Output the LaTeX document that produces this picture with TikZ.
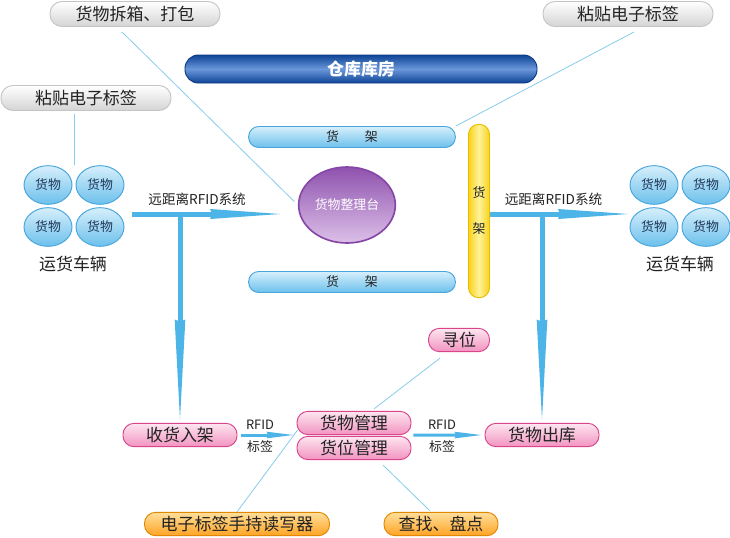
\documentclass[tikz,border=0pt]{standalone}
\usepackage{fontspec}
\setmainfont{Noto Sans CJK SC}
\usepackage{xcolor}
\usepackage{tikz}
\usetikzlibrary{arrows.meta,positioning,calc,shapes.geometric}
\definecolor{ink}{HTML}{222222}
\definecolor{navy}{HTML}{1D3557}
\definecolor{flow}{HTML}{4CB4E7}
\definecolor{link}{HTML}{8ACDEB}
\definecolor{grayrim}{HTML}{C4C4C4}
\definecolor{graylo}{HTML}{D4D4D4}
\definecolor{bankrim}{HTML}{0C3A85}
\definecolor{bankhi}{HTML}{6A96DA}
\definecolor{banklo}{HTML}{0E4596}
\definecolor{shelfrim}{HTML}{48A6DC}
\definecolor{shelfhi}{HTML}{D6EFFB}
\definecolor{shelflo}{HTML}{6CC0EC}
\definecolor{yelrim}{HTML}{E8BE00}
\definecolor{yelhi}{HTML}{FFF39A}
\definecolor{yello}{HTML}{F9D21A}
\definecolor{deskrim}{HTML}{8646A6}
\definecolor{deskhi}{HTML}{8F52AE}
\definecolor{desklo}{HTML}{DCC0E8}
\definecolor{pinkrim}{HTML}{D8458A}
\definecolor{pinkhi}{HTML}{FDE6F0}
\definecolor{pinklo}{HTML}{F293C0}
\definecolor{orgrim}{HTML}{E08800}
\definecolor{orghi}{HTML}{FFDF9A}
\definecolor{orglo}{HTML}{FFA425}
\newcommand{\fbig}{\fontsize{14.5pt}{17pt}\selectfont}
\newcommand{\fmid}{\fontsize{11pt}{13pt}\selectfont}
\newcommand{\fsys}{\fontsize{11.6pt}{13pt}\selectfont}
\tikzset{
  pill/.style   ={rounded corners=3.3mm, inner sep=0pt, minimum height=7mm,
                  align=center, font=\fbig, text=ink, line width=0.8pt},
  gtag/.style   ={pill, draw=grayrim, top color=white, bottom color=graylo,
                  minimum width=51mm, minimum height=7.5mm, rounded corners=3.6mm},
  bank/.style   ={pill, draw=bankrim, top color=banklo, bottom color=banklo,
                  middle color=bankhi, minimum width=105.6mm, minimum height=8.4mm,
                  rounded corners=4mm, text=white, font=\fbig\bfseries},
  shelf/.style  ={pill, draw=shelfrim, top color=shelfhi, bottom color=shelflo,
                  minimum width=62mm, minimum height=6.3mm, rounded corners=3mm, font=\fmid},
  vshelf/.style ={pill, draw=yelrim, left color=yello, right color=yello, middle color=yelhi,
                  minimum width=6.3mm, minimum height=52mm, rounded corners=3mm, font=\fmid},
  desk/.style   ={ellipse, draw=deskrim, line width=1.4pt, top color=deskhi, bottom color=desklo,
                  minimum width=29mm, minimum height=22.8mm, inner sep=0pt,
                  font=\fmid, text=white},
  cargo/.style  ={ellipse, draw=shelfrim, line width=0.8pt, top color=shelfhi, bottom color=shelflo,
                  minimum width=14.4mm, minimum height=11.6mm, inner sep=0pt,
                  font=\fmid, text=navy},
  mgmt/.style   ={pill, draw=pinkrim, top color=pinkhi, bottom color=pinklo, minimum width=34.2mm},
  tool/.style   ={pill, draw=orgrim, top color=orghi, bottom color=orglo, minimum width=34.2mm},
  fl/.style     ={draw=flow, line width=1.5mm,
                  -{Stealth[length=21mm,width=3mm,inset=0.6mm,line width=0pt]}},
  fld/.style    ={draw=flow, line width=1.5mm,
                  -{Stealth[length=30mm,width=3.2mm,inset=0.6mm,line width=0pt]}},
  sfl/.style    ={draw=flow, line width=0.9mm,
                  -{Stealth[length=8mm,width=2mm,inset=0.4mm,line width=0pt]}},
  gl/.style     ={draw=link, line width=0.7pt},
  w/.style      ={font=\fmid, text=ink, inner sep=1pt},
  big/.style    ={font=\fbig, text=ink, inner sep=1pt},
}

\begin{document}
\begin{tikzpicture}[x=0.3mm,y=-0.3mm]
  \fill[white] (0,0) rectangle (730,537);
  \useasboundingbox (0,0) rectangle (730,537);
  % tags and warehouse
  \node[gtag] (unpack) at (135,14) {货物拆箱、打包};
  \node[gtag] (tagR)   at (628,14) {粘贴电子标签};
  \node[gtag] (tagL)   at (86,98)  {粘贴电子标签};
  \node[bank] (store)  at (361,69) {仓库库房};
  \node[shelf]  (shA)  at (352,137) {货\hspace{2em}架};
  \node[shelf]  (shB)  at (352,282) {货\hspace{2em}架};
  \node[vshelf] (shV)  at (479,211) {货\\[6.2mm]架};
  \node[desk]   (desk) at (347,205) {货物整理台};
  % trucks
  \foreach \n/\x/\y in {a/48/185,b/100/185,c/48/227,d/100/227}
    \node[cargo] (in\n) at (\x,\y) {货物};
  \foreach \n/\x/\y in {a/654/185,b/706/185,c/654/227,d/706/227}
    \node[cargo] (out\n) at (\x,\y) {货物};
  \node[big] (truckL) at (73,264)  {运货车辆};
  \node[big] (truckR) at (680,264) {运货车辆};
  % management
  \node[mgmt] (recv) at (180,435) {收货入架};
  \node[mgmt] (mgA)  at (354,423) {货物管理};
  \node[mgmt] (mgB)  at (354,448) {货位管理};
  \node[mgmt] (outb) at (542,435) {货物出库};
  \node[mgmt, minimum width=18.3mm] (seek) at (459,340) {寻位};
  \node[tool, minimum width=55.5mm] (reader) at (237,524) {电子标签手持读写器};
  \node[tool] (find) at (441,524) {查找、盘点};
  % flows
  \coordinate (lin)  at (132,214);
  \coordinate (lout) at (280,214);
  \coordinate (rin)  at (490,214);
  \coordinate (rout) at (628,214);
  \draw[fl] (lin) -- (lout);
  \draw[fl] (rin) -- (rout);
  \node[w,font=\fsys,anchor=south] at ($(lin)!.44!(lout)+(0,-7)$) {远距离RFID系统};
  \node[w,font=\fsys,anchor=south] at ($(rin)!.46!(rout)+(0,-7)$) {远距离RFID系统};
  \draw[fld,shorten >=1mm] (lin -| recv) -- (recv.north);
  \draw[fld,shorten >=1mm] (rin -| outb) -- (outb.north);
  \draw[sfl,shorten <=1mm,shorten >=1mm] (recv.east) -- (recv.east -| mgA.west);
  \draw[sfl,shorten <=0.6mm,shorten >=1mm] (mgA.south east) -- (outb.west);
  \node[w] at (260,425) {RFID};
  \node[w] at (260,447) {标签};
  \node[w] at (442,425) {RFID};
  \node[w] at (442,447) {标签};
  % thin links
  \draw[gl,shorten >=1.5mm] ($(unpack.south)+(-13,5)$) -- (desk.west);
  \draw[gl] ($(tagR.south)+(6,5)$) -- (shA.north east);
  \draw[gl] ($(tagL.south)+(-12,3)$) -- ($(ina.north)!.5!(inb.north)$);
  \draw[gl] ($(seek.south)+(-19,6)$) -- ($(mgA.north)+(20,-2)$);
  \draw[gl] (reader.north) -- ($(mgA.south west)+(1,-5)$);
  \draw[gl] ($(find.north)+(-11,-1)$) -- ($(mgB.south)+(29,5)$);
\end{tikzpicture}
\end{document}
